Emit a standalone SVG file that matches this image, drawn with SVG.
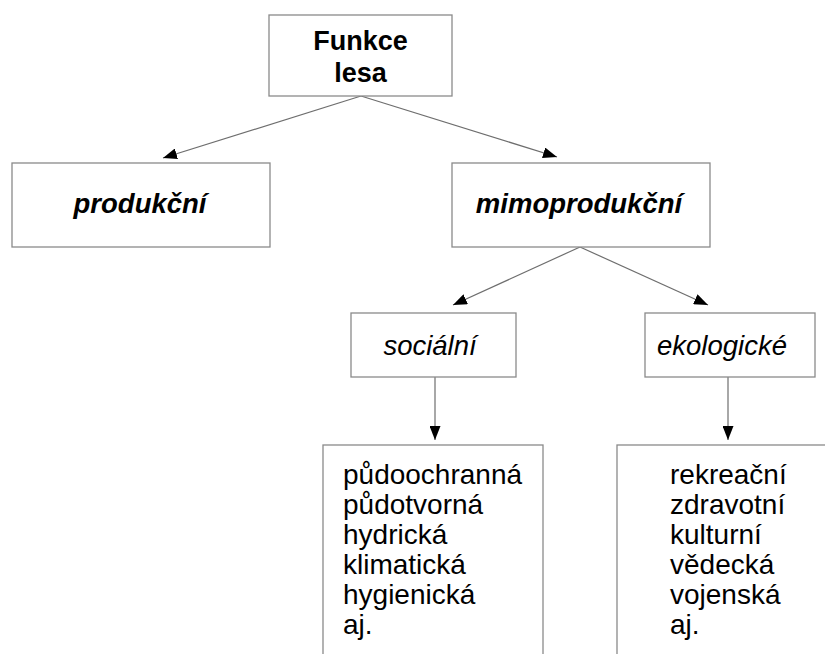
<svg xmlns="http://www.w3.org/2000/svg" width="825" height="654" viewBox="0 0 825 654">
<defs>
<marker id="arr" viewBox="0 0 14 11" refX="14" refY="5.5" markerWidth="14" markerHeight="11" markerUnits="userSpaceOnUse" orient="auto">
<path d="M0,0 L14,5.5 L0,11 Z" fill="#000"/>
</marker>
<style>
.box{fill:#fff;stroke:#8a8a8a;stroke-width:1.3}
.conn{stroke:#6e6e6e;stroke-width:1.2;fill:none;marker-end:url(#arr)}
text{font-family:"Liberation Sans",Arial,sans-serif;fill:#000}
.b{font-weight:bold;font-size:27px}
.bi{font-weight:bold;font-style:italic;font-size:27.5px}
.i{font-style:italic;font-size:27.5px}
.l{font-size:28px}
</style>
</defs>
<rect width="825" height="654" fill="#fff"/>
<g id="connectors">
<line class="conn" x1="361" y1="96" x2="163" y2="158"/>
<line class="conn" x1="361" y1="96" x2="557" y2="157"/>
<line class="conn" x1="580" y1="247" x2="453" y2="305"/>
<line class="conn" x1="580" y1="247" x2="708" y2="305"/>
<line class="conn" x1="435" y1="377" x2="435" y2="440"/>
<line class="conn" x1="728" y1="377" x2="728" y2="440"/>
</g>
<g id="funkce">
<rect class="box" x="269" y="15" width="183" height="81"/>
<text class="b" x="360.5" y="50" text-anchor="middle">Funkce</text>
<text class="b" x="360.5" y="82" text-anchor="middle">lesa</text>
</g>
<g id="produkcni">
<rect class="box" x="12" y="163" width="258" height="84"/>
<text class="bi" x="140" y="213" text-anchor="middle">produkční</text>
</g>
<g id="mimoprodukcni">
<rect class="box" x="452" y="163" width="258" height="84"/>
<text class="bi" x="579" y="213" text-anchor="middle">mimoprodukční</text>
</g>
<g id="socialni">
<rect class="box" x="351" y="313" width="165" height="64"/>
<text class="i" x="430" y="355" text-anchor="middle">sociální</text>
</g>
<g id="ekologicke">
<rect class="box" x="645" y="313" width="170" height="64"/>
<text class="i" x="722" y="355" text-anchor="middle">ekologické</text>
</g>
<g id="socialni-list">
<rect class="box" x="323" y="445" width="220" height="215"/>
<text class="l" x="343" y="484">půdoochranná</text>
<text class="l" x="343" y="514">půdotvorná</text>
<text class="l" x="343" y="544">hydrická</text>
<text class="l" x="343" y="574">klimatická</text>
<text class="l" x="343" y="604">hygienická</text>
<text class="l" x="343" y="634">aj.</text>
</g>
<g id="ekologicke-list">
<rect class="box" x="617" y="445" width="220" height="215"/>
<text class="l" x="670" y="484">rekreační</text>
<text class="l" x="670" y="514">zdravotní</text>
<text class="l" x="670" y="544">kulturní</text>
<text class="l" x="670" y="574">vědecká</text>
<text class="l" x="670" y="604">vojenská</text>
<text class="l" x="670" y="634">aj.</text>
</g>
</svg>
